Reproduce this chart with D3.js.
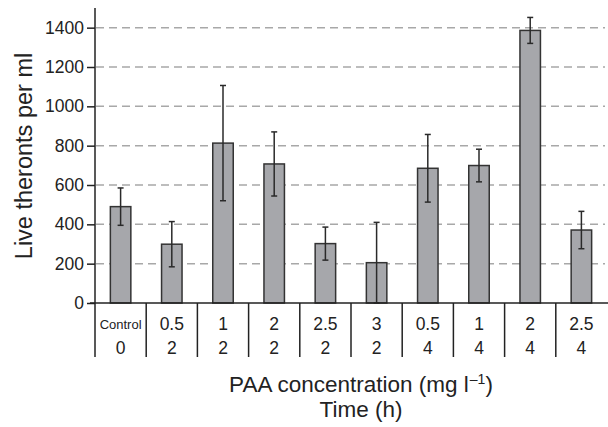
<!DOCTYPE html>
<html><head><meta charset="utf-8">
<script src="https://cdn.jsdelivr.net/npm/d3@7"></script>
<style>body{margin:0;background:#fff}svg{display:block}text{font-family:"Liberation Sans",Arial,Helvetica,sans-serif;fill:#222}</style>
</head><body>
<svg id="c" width="608" height="427"></svg>
<script>
const concentration = ["Control","0.5","1","2","2.5","3","0.5","1","2","2.5"];
const timeH = ["0","2","2","2","2","2","4","4","4","4"];
const means = [490,299,813,707,302,205,685,699,1386,371];
const errors = [95,115,293,163,84,205,172,83,66,95];
const yTicks = [0,200,400,600,800,1000,1200,1400];

(function(){
const svg = d3.select("#c");
const L = 95, R = 607, T = 8, B = 303;
const ids = d3.range(means.length);
const x = d3.scaleBand().domain(ids).range([L, R]).paddingInner(0.6).paddingOuter(0.3);
const xs = d3.scaleBand().domain(ids).range([L, R]);
const y = d3.scaleLinear().domain([0,1500]).range([B, T]);

// gridlines
svg.append("g").selectAll("line").data(yTicks.filter(d=>d>0)).join("line")
  .attr("x1", L+1).attr("x2", 605).attr("y1", d=>y(d)).attr("y2", d=>y(d))
  .attr("stroke","#a8a8a8").attr("stroke-width",1.5).attr("stroke-dasharray","8,5");

// bars
svg.append("g").selectAll("rect").data(ids).join("rect")
  .attr("x", i=>x(i)).attr("width", x.bandwidth())
  .attr("y", i=>y(means[i])).attr("height", i=>y(0)-y(means[i]))
  .attr("fill","#a6a7ab").attr("stroke","#333").attr("stroke-width",1.5);

// error bars
const eg = svg.append("g").attr("stroke","#2a2a2a").attr("stroke-width",1.5);
ids.forEach(i=>{
  const cx = x(i)+x.bandwidth()/2;
  const hi = y(means[i]+errors[i]), lo = y(Math.max(0,means[i]-errors[i]));
  eg.append("line").attr("x1",cx).attr("x2",cx).attr("y1",hi).attr("y2",lo);
  eg.append("line").attr("x1",cx-3).attr("x2",cx+3).attr("y1",hi).attr("y2",hi);
  eg.append("line").attr("x1",cx-3).attr("x2",cx+3).attr("y1",lo).attr("y2",lo);
});

// y axis
const ya = svg.append("g").attr("transform",`translate(${L},0)`)
  .call(d3.axisLeft(y).tickValues(yTicks).tickFormat(d3.format("d")).tickSize(8).tickPadding(3));
ya.attr("font-family",null).attr("font-size",null);
ya.select(".domain").attr("d",`M0,${T}V${B}`).attr("stroke","#222").attr("stroke-width",1.5);
ya.selectAll(".tick line").attr("stroke","#222").attr("stroke-width",1.5);
ya.selectAll(".tick text").attr("font-size","17.5px").attr("fill","#222");

// x axis baseline
svg.append("line").attr("x1",L-5).attr("x2",608).attr("y1",B).attr("y2",B)
  .attr("stroke","#222").attr("stroke-width",1.5);

// table separators
svg.append("g").selectAll("line").data(ids).join("line")
  .attr("x1", i=>xs(i)).attr("x2", i=>xs(i)).attr("y1",B).attr("y2",357)
  .attr("stroke","#222").attr("stroke-width",1.5);

// table text
svg.append("g").selectAll("text").data(ids).join("text")
  .attr("x", i=>xs(i)+xs.bandwidth()/2).attr("y", i=>i===0?328.5:329.5)
  .attr("text-anchor","middle").attr("font-size", i=>i===0?"13px":"17.5px")
  .text(i=>concentration[i]);
svg.append("g").selectAll("text").data(ids).join("text")
  .attr("x", i=>xs(i)+xs.bandwidth()/2).attr("y",354)
  .attr("text-anchor","middle").attr("font-size","17.5px")
  .text(i=>timeH[i]);

// axis titles
const xt = svg.append("text").attr("x",361).attr("y",392).attr("text-anchor","middle").attr("font-size","22.5px");
xt.append("tspan").text("PAA concentration (mg l");
xt.append("tspan").attr("font-size","14px").attr("dy",-8).attr("dx",1).text("\u20131");
xt.append("tspan").attr("dy",8).text(")");
svg.append("text").attr("x",361).attr("y",417).attr("text-anchor","middle").attr("font-size","22.5px").text("Time (h)");

svg.append("text").attr("transform","translate(32,156) rotate(-90)").attr("text-anchor","middle")
  .attr("font-size","23.5px").text("Live theronts per ml");
})();
</script>
</body></html>
